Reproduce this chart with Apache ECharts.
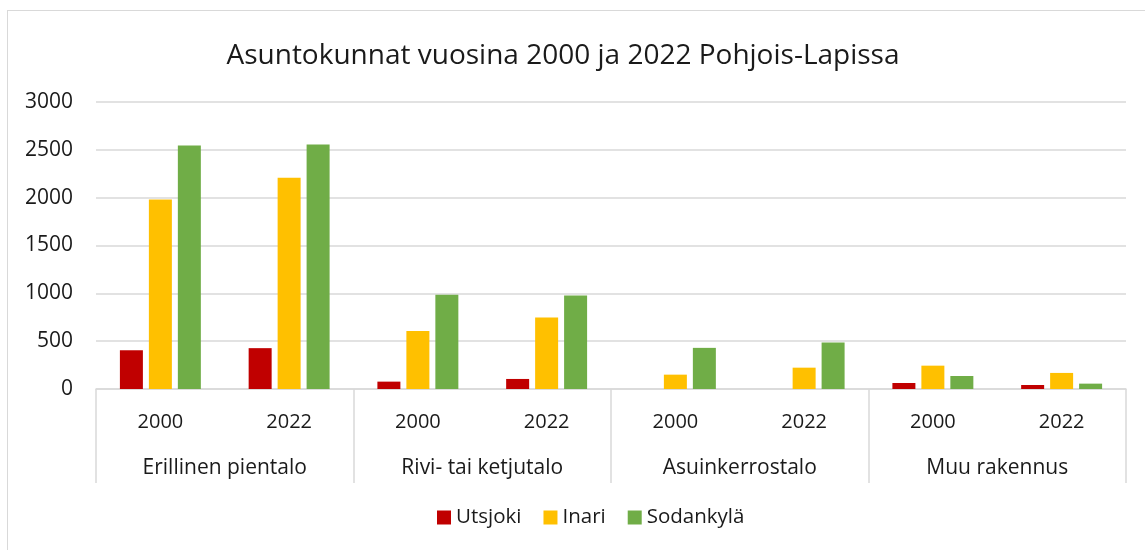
<!DOCTYPE html>
<html>
<head>
<meta charset="utf-8">
<script src="https://cdn.jsdelivr.net/npm/echarts@6/dist/echarts.min.js"></script>
<style>
    html, body { margin: 0; padding: 0; background: #fff; }
    .frame {
        position: absolute;
        left: 7px;
        top: 10px;
        width: 1160px;
        height: 570px;
        border: 1px solid #d9d9d9;
    }
    #chart { position: absolute; left: 0; top: 0; width: 1145px; height: 550px; }
</style>
</head>
<body>
<div class="frame"></div>
<div id="chart"></div>
<script>
// kategoriat
const years = ['2000', '2022', '2000', '2022', '2000', '2022', '2000', '2022']
const types = ['Erillinen pientalo', 'Rivi- tai ketjutalo', 'Asuinkerrostalo', 'Muu rakennus']
const yTicks = [0, 500, 1000, 1500, 2000, 2500, 3000]

// arvot kuvasta luettuna
const utsjoki = [405, 427, 77, 105, 0, 0, 63, 42]
const inari = [1981, 2209, 605, 747, 150, 223, 244, 168]
const sodankyla = [2544, 2555, 985, 978, 430, 486, 136, 56]

const font = 'Open Sans'
const textColor = '#1a1a1a'
const lineColor = '#d9d9d9'

var myChart = echarts.init(document.getElementById('chart'))

function bar(name, data, color) {
    return {
        name: name,
        type: 'bar',
        data: data,
        barWidth: 23,
        barGap: '26%',
        itemStyle: { color: color },
        xAxisIndex: 0,
        yAxisIndex: 0
    }
}

let option = {
    animation: false,
    textStyle: { fontFamily: font },
    title: {
        text: 'Asuntokunnat vuosina 2000 ja 2022 Pohjois-Lapissa',
        left: 558,
        top: 37,
        textAlign: 'center',
        textStyle: { fontFamily: font, fontSize: 28, fontWeight: 'normal', color: textColor }
    },
    legend: {
        bottom: 17,
        left: 432,
        itemWidth: 14,
        itemHeight: 14,
        itemGap: 22,
        icon: 'rect',
        textStyle: { fontFamily: font, fontSize: 20.5, color: textColor },
        data: ['Utsjoki', 'Inari', 'Sodankylä']
    },
    grid: [
        { left: 96, right: 19, top: 102, bottom: 161 },
        { left: 96, right: 19, top: 102, bottom: 161 }
    ],
    xAxis: [
        {
            type: 'category',
            gridIndex: 0,
            data: years,
            axisLine: { lineStyle: { color: lineColor, width: 1.5 } },
            axisTick: { show: false },
            axisLabel: { fontSize: 20, color: textColor, margin: 23 }
        },
        {
            type: 'category',
            gridIndex: 1,
            data: types,
            axisLine: { show: false },
            axisTick: { show: true, interval: 0, length: 94, lineStyle: { color: lineColor, width: 1.5 } },
            axisLabel: { fontSize: 21, color: textColor, margin: 69, interval: 0 }
        }
    ],
    yAxis: [
        {
            type: 'value',
            gridIndex: 0,
            min: yTicks[0],
            max: yTicks[yTicks.length - 1],
            interval: 500,
            axisLine: { show: false },
            axisTick: { show: false },
            axisLabel: { fontSize: 21, color: textColor, margin: 23, formatter: v => String(v) },
            splitLine: { lineStyle: { color: lineColor, width: 1.5 } }
        },
        {
            type: 'value',
            gridIndex: 1,
            show: false,
            min: 0,
            max: 3000
        }
    ],
    series: [
        bar('Utsjoki', utsjoki, '#C00000'),
        bar('Inari', inari, '#FFC000'),
        bar('Sodankylä', sodankyla, '#70AD47')
    ]
}

myChart.setOption(option)
</script>
</body>
</html>
